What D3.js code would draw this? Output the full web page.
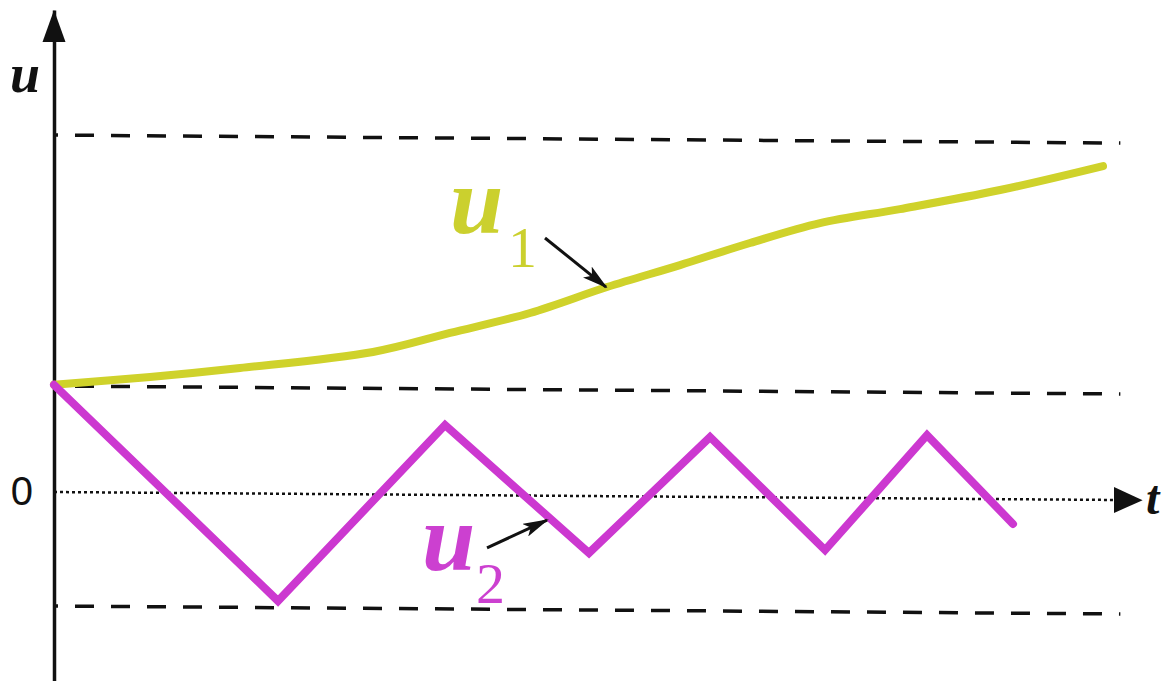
<!DOCTYPE html>
<html>
<head>
<meta charset="utf-8">
<script src="https://cdn.jsdelivr.net/npm/d3@7"></script>
<style>
  body { margin: 0; background: #fff; }
  svg { display: block; }
</style>
</head>
<body>
<svg id="chart" width="1164" height="681"></svg>
<script>
// u1: slowly rising smooth curve
var u1Time = [0, 0.906, 1.755, 3.009, 3.736, 4.491, 5.217, 5.906, 6.566, 7.226, 7.981, 8.925, 9.896];
var u1Value = [0.975, 1.052, 1.140, 1.295, 1.473, 1.660, 1.901, 2.106, 2.311, 2.497, 2.630, 2.810, 3.035];

// u2: triangular oscillation
var u2Time = [0, 2.113, 3.689, 5.047, 6.189, 7.274, 8.236, 9.047];
var u2Value = [0.975, -0.975, 0.635, -0.518, 0.545, -0.475, 0.577, -0.225];

// dashed reference levels
var levelValues = [3.245, 0.964, -1.036];
var levelEnd = 10.06;

// annotation arrows [t, u]
var u1Arrow = [[4.632, 2.343], [5.208, 1.901]];
var u2Arrow = [[4.085, -0.479], [4.651, -0.221]];

var width = 1164, height = 681;
var skew = 0.0075; // the scan is slightly tilted

var x = d3.scaleLinear().domain([0, 10]).range([54, 1114]);
var y = d3.scaleLinear().domain([-1.718, 4.382]).range([681, 10]);

function P(t, u) {
  return [x(t), y(u) + skew * (x(t) - x(0))];
}

var svg = d3.select("#chart");

svg.append("defs").append("marker")
  .attr("id", "arr")
  .attr("markerUnits", "userSpaceOnUse")
  .attr("markerWidth", 26)
  .attr("markerHeight", 14)
  .attr("refX", 24)
  .attr("refY", 7)
  .attr("orient", "auto")
  .append("path")
  .attr("d", "M0,0 L26,7 L0,14 L6,7 Z")
  .attr("fill", "#111");

// dashed levels
svg.selectAll(".level")
  .data(levelValues)
  .enter()
  .append("line")
  .attr("class", "level")
  .attr("x1", function (d) { return P(0, d)[0] })
  .attr("y1", function (d) { return P(0, d)[1] })
  .attr("x2", function (d) { return P(levelEnd, d)[0] })
  .attr("y2", function (d) { return P(levelEnd, d)[1] })
  .attr("stroke", "#111")
  .attr("stroke-width", 3.5)
  .attr("stroke-dasharray", "19,17")
  .attr("stroke-dashoffset", 15);

// t axis (dotted) with arrow
svg.append("line")
  .attr("x1", P(0, 0)[0]).attr("y1", P(0, 0)[1])
  .attr("x2", P(10.01, 0)[0]).attr("y2", P(10.01, 0)[1])
  .attr("stroke", "#111")
  .attr("stroke-width", 2.5)
  .attr("stroke-dasharray", "3,3");

var tb = P(10.0, 0), tt = P(10.27, 0);
svg.append("path")
  .attr("d", "M" + tt[0] + "," + tt[1] + " L" + tb[0] + "," + (tb[1] - 13) + " L" + tb[0] + "," + (tb[1] + 13) + " Z")
  .attr("fill", "#111");

svg.append("text")
  .attr("x", 1146)
  .attr("y", 514)
  .style("font-family", "'Liberation Serif', serif")
  .style("font-style", "italic")
  .style("font-weight", "bold")
  .style("font-size", "48px")
  .attr("fill", "#111")
  .text("t");

// u axis
var yAxis = svg.append("g")
  .attr("transform", "translate(" + x(0) + ",0)")
  .call(d3.axisLeft(y).tickValues([0]).tickSize(0).tickPadding(21).tickFormat(d3.format("d")));
yAxis.select(".domain").attr("stroke", "#111").attr("stroke-width", 3.5);
yAxis.selectAll("text")
  .style("font-family", "'Liberation Sans', Arial, sans-serif")
  .style("font-size", "40px")
  .attr("fill", "#111");

var yTop = y.range()[1];
svg.append("path")
  .attr("d", "M" + x(0) + "," + yTop + " L" + (x(0) - 11.5) + "," + (yTop + 32) + " L" + (x(0) + 11.5) + "," + (yTop + 32) + " Z")
  .attr("fill", "#111");

svg.append("text")
  .attr("x", x(0) - 44)
  .attr("y", 92)
  .style("font-family", "'Liberation Serif', serif")
  .style("font-style", "italic")
  .style("font-weight", "bold")
  .style("font-size", "54px")
  .attr("fill", "#111")
  .text("u");

// curves
var u1Data = u1Time.map(function (t, i) { return P(t, u1Value[i]) });
var u2Data = u2Time.map(function (t, i) { return P(t, u2Value[i]) });

svg.append("path")
  .attr("d", d3.line().curve(d3.curveCatmullRom)(u1Data))
  .attr("fill", "none")
  .attr("stroke", "#cfd22b")
  .attr("stroke-width", 8)
  .attr("stroke-linecap", "round");

svg.append("path")
  .attr("d", d3.line()(u2Data))
  .attr("fill", "none")
  .attr("stroke", "#cc38d0")
  .attr("stroke-width", 8)
  .attr("stroke-linecap", "round")
  .attr("stroke-linejoin", "miter");

// annotation arrows
[u1Arrow, u2Arrow].forEach(function (a) {
  var s = P(a[0][0], a[0][1]), e = P(a[1][0], a[1][1]);
  svg.append("line")
    .attr("x1", s[0]).attr("y1", s[1])
    .attr("x2", e[0]).attr("y2", e[1])
    .attr("stroke", "#111")
    .attr("stroke-width", 3)
    .attr("marker-end", "url(#arr)");
});

// labels
function label(t, u, txt, size, color, italic) {
  var p = P(t, u);
  svg.append("text")
    .attr("x", p[0])
    .attr("y", p[1])
    .style("font-family", "'Liberation Serif', serif")
    .style("font-style", italic ? "italic" : "normal")
    .style("font-weight", italic ? "bold" : "normal")
    .style("font-size", size + "px")
    .attr("fill", color)
    .text(txt);
}
label(3.736, 2.382, "u", 96, "#cbd02e", true);
label(4.283, 2.076, "1", 58, "#cbd02e", false);
label(3.472, -0.684, "u", 96, "#cc40d0", true);
label(3.981, -0.980, "2", 58, "#cc40d0", false);
</script>
</body>
</html>
